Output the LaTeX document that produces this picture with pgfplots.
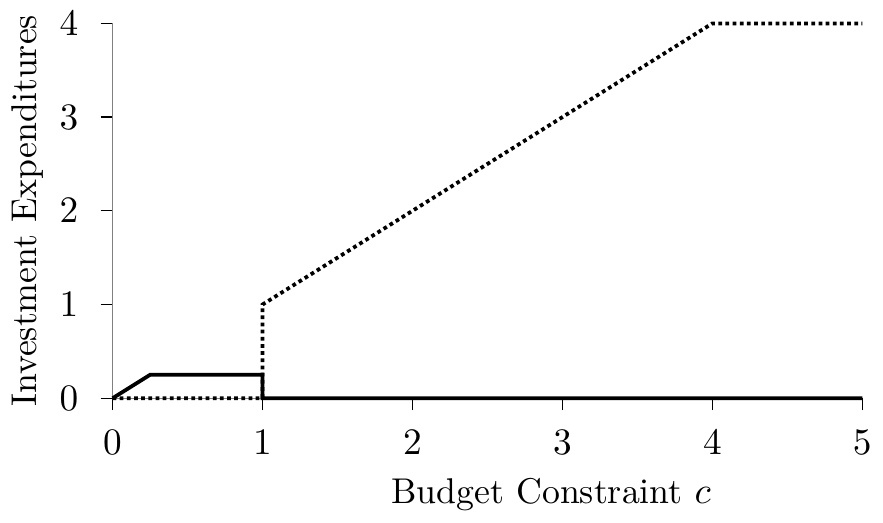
\documentclass[border=0pt]{standalone}
\usepackage{pgfplots}
\pgfplotsset{compat=1.18}
\begin{document}
\begin{tikzpicture}
\begin{axis}[
  scale only axis,
  width=220pt, height=110pt,
  xmin=0, xmax=5, ymin=0, ymax=4,
  axis lines=left,
  axis line style={gray, thin, -},
  xtick={0,1,2,3,4,5}, ytick={0,1,2,3,4},
  tick style={black, thin},
  tick align=outside,
  major tick length=3.5pt,
  tick label style={font=\fontsize{10.5}{12.6}\selectfont},
  xticklabel style={yshift=-2.5pt},
  yticklabel style={xshift=-3pt},
  label style={font=\fontsize{10.5}{12.6}\selectfont},
  xlabel={Budget Constraint $c$},
  xlabel style={xshift=18.7pt},
  ylabel={Investment Expenditures},
  ylabel style={yshift=-2pt},
  clip=false,
]
\addplot[black, line width=1.1pt] coordinates {(0,0) (0.25,0.25) (1,0.25) (1,0) (5,0)};
\addplot[black, line width=1.1pt, densely dotted] coordinates {(0,0) (1,0) (1,1) (4,4) (5,4)};
\end{axis}
\end{tikzpicture}
\end{document}
